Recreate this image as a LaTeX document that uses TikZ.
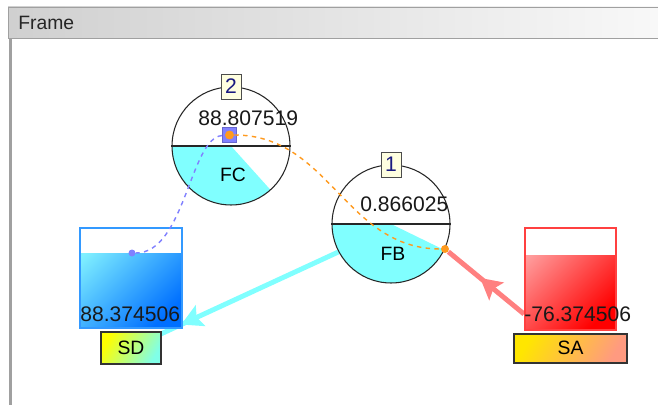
\documentclass[tikz,border=0pt]{standalone}
\usepackage{fontspec}
\setmainfont{Liberation Sans}
\usetikzlibrary{arrows.meta,positioning,decorations.markings}

\definecolor{barleft}{HTML}{D0D0D0}
\definecolor{barright}{HTML}{F8F8F8}
\definecolor{frameline}{HTML}{A0A0A0}
\definecolor{gaugecyan}{HTML}{80FFFF}
\definecolor{flowcyan}{HTML}{80FFFF}
\definecolor{flowpink}{HTML}{FF8080}
\definecolor{linkorange}{HTML}{FF9A1E}
\definecolor{linkblue}{HTML}{8080FF}
\definecolor{numcream}{HTML}{FFFFE0}
\definecolor{numblue}{HTML}{1A1A80}
\definecolor{sdlight}{HTML}{80F0FF}
\definecolor{sddark}{HTML}{0070FF}
\definecolor{sdedge}{HTML}{3399FF}
\definecolor{salight}{HTML}{FFA0A0}
\definecolor{sadark}{HTML}{FF0000}
\definecolor{saedge}{HTML}{FF4040}
\definecolor{tagyellow}{HTML}{FFFF00}
\definecolor{tagmint}{HTML}{80FFE8}
\definecolor{tagamber}{HTML}{FFE600}
\definecolor{tagsalmon}{HTML}{FF9A80}

\pgfdeclarelayer{background}
\pgfsetlayers{background,main}

\begin{document}
\begin{tikzpicture}[x=0.02cm, y=-0.02cm,
    font=\fontsize{11}{13}\selectfont,
    gauge/.style={draw=black!85, line width=0.6pt, circle, minimum size=2.36cm, inner sep=0pt},
    numbox/.style={draw=black!70, fill=numcream, text=numblue, font=\fontsize{12}{14}\selectfont,
                   minimum width=0.4cm, minimum height=0.5cm, inner sep=0pt},
    value/.style={anchor=west, inner sep=0pt, font=\fontsize{12}{14}\selectfont, text=black!90},
    tank/.style 2 args={draw=#1, line width=1pt, inner sep=0pt,
                   path picture={\fill[white] (path picture bounding box.north west)
                     rectangle ([yshift=-#2]path picture bounding box.north east);}},
    tag/.style={draw=black!80, line width=1pt, inner sep=0pt},
    flow/.style={line width=2.8pt},
    link/.style={dash pattern=on 2.5pt off 2.5pt, line width=0.8pt},
    dot/.style={circle, inner sep=0pt, minimum size=0.16cm}
]
  \useasboundingbox (0,0) rectangle (658,405);

  % window frame
  \shade[left color=barleft, right color=barright] (8,7) rectangle (658,38);
  \draw[frameline] (8,38) -- (8,7) -- (658,7);
  \draw[frameline, line width=1pt] (8,38.5) -- (658,38.5);
  \draw[frameline, line width=1.2pt] (10.5,39) -- (10.5,405);
  \node[anchor=west, inner sep=0pt, text=black!85] (title) at (18,23) {Frame};

  % gauges
  \coordinate (fc) at (231,146);
  \coordinate (fb) at (391,224);
  \fill[gaugecyan] (fc) -- ++(180:1.18cm) arc[start angle=180, end angle=312, radius=1.18cm] -- cycle;
  \fill[gaugecyan] (fb) -- ++(180:1.18cm) arc[start angle=180, end angle=334, radius=1.18cm] -- cycle;
  \node[gauge] (FC) at (fc) {};
  \node[gauge] (FB) at (fb) {};
  \draw[black!85, line width=1.2pt] (FC.west) -- (FC.east);
  \draw[black!85, line width=1.2pt] (FB.west) -- (FB.east);
  \node[numbox] (FCnum) at (FC.north) {2};
  \node[numbox] (FBnum) at (FB.north) {1};
  \node[value] (FCval) at (198,118) {88.807519};
  \node[value] (FBval) at (360,204) {0.866025};
  \node[inner sep=0pt] (FClbl) at (233,175) {FC};
  \node[inner sep=0pt] (FBlbl) at (393,254) {FB};

  % tanks
  \node[tank={sdedge}{0.5cm}, top color=sdlight, bottom color=sddark, shading angle=45,
        minimum width=2.04cm, minimum height=2cm] (SD) at (131,278) {};
  \node[tank={saedge}{0.54cm}, top color=salight, bottom color=sadark, shading angle=45,
        minimum width=1.82cm, minimum height=2.04cm] (SA) at (570.5,279) {};
  \node[value] (SDval) at (80,314) {88.374506};
  \node[value] (SAval) at (524,314) {-76.374506};
  \node[tag, top color=tagyellow, bottom color=tagmint, shading angle=60, minimum width=1.2cm,
        minimum height=0.64cm, below=0.04cm of SD] (SDtag) {SD};
  \node[tag, top color=tagamber, bottom color=tagsalmon, shading angle=60,
        minimum width=2.26cm, minimum height=0.58cm, below=0.04cm of SA] (SAtag) {SA};

  % markers
  \node[draw=linkblue!80!black, fill=linkblue, minimum size=0.29cm, inner sep=0pt] (FCsq) at (229.5,135) {};
  \node[dot, fill=linkorange, minimum size=0.18cm] (FCdot) at (FCsq.center) {};
  \node[dot, fill=linkorange] (FBdot) at (445,249) {};
  \node[dot, fill=linkblue, minimum size=0.14cm] (SDdot) at (132,253) {};

  % links
  \draw[link, linkorange] (FCdot) .. controls (330,135) and (345,249) .. (FBdot);
  \draw[link, linkblue] (FCsq) .. controls (190,138) and (185,253) .. (SDdot);

  % flows
  \begin{pgfonlayer}{background}
    \fill[white] (0,0) rectangle (658,405);
    \draw[flow, flowcyan, postaction={decorate}, decoration={markings,
          mark=at position 0.758 with {\arrow{Stealth[length=0.42cm, width=0.45cm, inset=0.08cm]}}}]
      (FB.208) -- (SDtag.center);
    \draw[flow, flowpink, postaction={decorate}, decoration={markings,
          mark=at position 0.58 with {\arrow{Stealth[length=0.42cm, width=0.45cm, inset=0.08cm]}}}]
      (SAval.west) -- (FBdot);
  \end{pgfonlayer}
\end{tikzpicture}
\end{document}
